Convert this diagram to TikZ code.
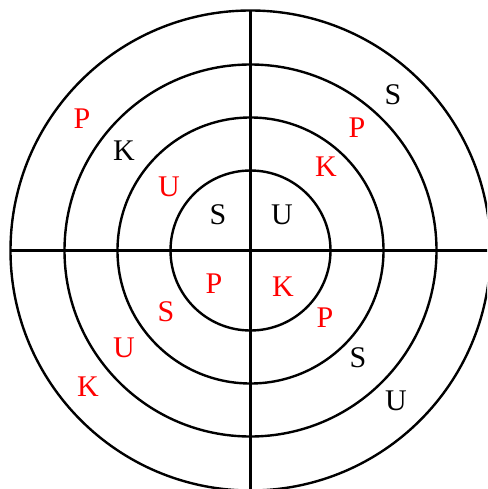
\documentclass[tikz,border=0pt]{standalone}
\usepackage{fontspec}
\setmainfont{Liberation Serif}
\begin{document}
\begin{tikzpicture}[x=1pt,y=-1pt,
  ring/.style={draw=black,line width=2.4pt},
  lab/.style={inner sep=0pt,font=\fontsize{30}{30}\selectfont},
  red lab/.style={lab,text=red},
  black lab/.style={lab,text=black}]
\useasboundingbox (0,0) rectangle (487,489);
\clip (0,0) rectangle (487,489);
\coordinate (c) at (250.5,250.5);
\draw[ring] (c) circle[radius=80];
\draw[ring] (c) circle[radius=133];
\draw[ring] (c) circle[radius=186];
\draw[ring] (c) circle[radius=240];
\coordinate (top) at (250.5,10.5);
\coordinate (bot) at (250.5,495);
\coordinate (lft) at (10.5,250.5);
\coordinate (rgt) at (495,250.5);
\draw[ring] (top) -- (bot);
\draw[ring] (lft) -- (rgt);
% top half
\node[red lab]   (p1) at (82,119) {P};
\node[black lab] (k1) at (124,151) {K};
\node[red lab]   (u1) at (169,187) {U};
\node[black lab] (s1) at (218,215) {S};
\node[black lab] (u2) at (282,215) {U};
\node[red lab]   (k2) at (326,167) {K};
\node[red lab]   (p2) at (357,128) {P};
\node[black lab] (s2) at (393,95) {S};
% bottom half
\node[red lab]   (p3) at (214,284) {P};
\node[red lab]   (k3) at (283,287) {K};
\node[red lab]   (p4) at (325,318) {P};
\node[black lab] (s3) at (358,358) {S};
\node[black lab] (u3) at (396,401) {U};
\node[red lab]   (s4) at (166,312) {S};
\node[red lab]   (u4) at (124,348) {U};
\node[red lab]   (k4) at (88,387) {K};
\end{tikzpicture}
\end{document}
